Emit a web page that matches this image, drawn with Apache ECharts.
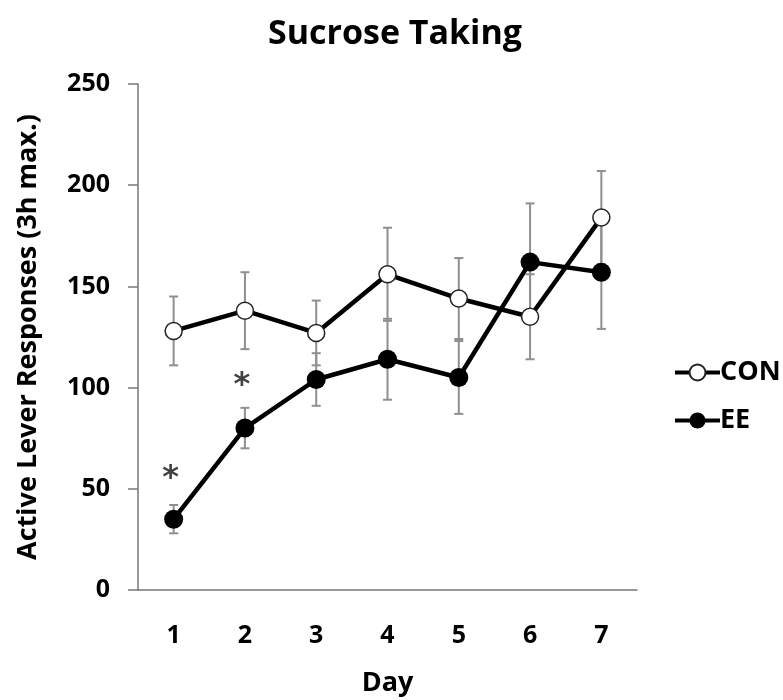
<!DOCTYPE html>
<html>
<head>
<meta charset="utf-8">
<script src="https://cdn.jsdelivr.net/npm/echarts@6/dist/echarts.min.js"></script>
<style>html,body{margin:0;padding:0;background:#fff}#c{width:783px;height:700px}</style>
</head>
<body>
<div id="c"></div>
<script>
var days = ['1','2','3','4','5','6','7'];
var conMean = [128, 138, 127, 156, 144, 135, 184];
var conErr  = [17, 19, 16, 23, 20, 21, 23];
var eeMean  = [35, 80, 104, 114, 105, 162, 157];
var eeErr   = [7, 10, 13, 20, 18, 29, 28];
var starDay = [0, 1];
var starY   = [59, 105];
var yTicks  = [0, 50, 100, 150, 200, 250];

var FONT = 'Open Sans';
function errData(mean, err) {
  return mean.map(function (m, i) { return [i, m - err[i], m + err[i]]; });
}
function errRender(params, api) {
  var x = api.value(0);
  var lo = api.coord([x, api.value(1)]);
  var hi = api.coord([x, api.value(2)]);
  var w = 4.5;
  var st = { stroke: '#8f8f8f', lineWidth: 2 };
  return { type: 'group', children: [
    { type: 'line', shape: { x1: lo[0], y1: lo[1], x2: hi[0], y2: hi[1] }, style: st },
    { type: 'line', shape: { x1: lo[0] - w, y1: lo[1], x2: lo[0] + w, y2: lo[1] }, style: st },
    { type: 'line', shape: { x1: hi[0] - w, y1: hi[1], x2: hi[0] + w, y2: hi[1] }, style: st }
  ]};
}

var chart = echarts.init(document.getElementById('c'), null, { renderer: 'canvas' });
chart.setOption({
  animation: false,
  backgroundColor: '#fff',
  title: {
    text: 'Sucrose Taking', left: 390, top: 12, textAlign: 'center',
    textStyle: { fontFamily: FONT, fontWeight: 'bold', fontSize: 34, color: '#000' }
  },
  legend: {
    orient: 'vertical', left: 668, top: 354, itemGap: 21,
    itemWidth: 45, itemHeight: 20,
    lineStyle: { width: 4 },
    textStyle: { fontFamily: FONT, fontWeight: 'bold', fontSize: 27, color: '#000', padding: [0, 0, 0, -5] },
    data: ['CON', 'EE']
  },
  grid: { left: 138, right: 146, top: 84, bottom: 110, outerBoundsMode: 'none', containLabel: false },
  xAxis: {
    type: 'category', data: days, boundaryGap: true,
    name: 'Day', nameLocation: 'middle', nameGap: 80,
    nameTextStyle: { fontFamily: FONT, fontWeight: 'bold', fontSize: 27, color: '#000' },
    axisLine: { lineStyle: { color: '#777', width: 1.5 } },
    axisTick: { alignWithLabel: true, length: 7, lineStyle: { color: '#777', width: 1.5 } },
    axisLabel: { fontFamily: FONT, fontWeight: 'bold', fontSize: 25, color: '#000', margin: 33 },
    splitLine: { show: false }
  },
  yAxis: {
    type: 'value', min: 0, max: 250, interval: 50,
    name: 'Active Lever Responses (3h max.)', nameLocation: 'middle', nameGap: 96,
    nameTextStyle: { fontFamily: FONT, fontWeight: 'bold', fontSize: 27, color: '#000' },
    axisLine: { show: true, lineStyle: { color: '#777', width: 1.5 } },
    axisTick: { show: true, length: 10, lineStyle: { color: '#777', width: 1.5 } },
    axisLabel: { fontFamily: FONT, fontWeight: 'bold', fontSize: 25, color: '#000', margin: 28,
      formatter: function (v) { return yTicks.indexOf(v) >= 0 ? String(v) : ''; } },
    splitLine: { show: false }
  },
  series: [
    { type: 'custom', name: 'conErr', renderItem: errRender, data: errData(conMean, conErr), z: 1, silent: true },
    { type: 'custom', name: 'eeErr', renderItem: errRender, data: errData(eeMean, eeErr), z: 1, silent: true },
    {
      type: 'line', name: 'CON', data: conMean, z: 3,
      symbol: 'circle', symbolSize: 17, showAllSymbol: true,
      lineStyle: { color: '#000', width: 4.5 },
      itemStyle: { color: '#fff', borderColor: '#222', borderWidth: 1.5 }
    },
    {
      type: 'line', name: 'EE', data: eeMean, z: 4,
      symbol: 'circle', symbolSize: 19, showAllSymbol: true,
      lineStyle: { color: '#000', width: 4.5 },
      itemStyle: { color: '#000', borderColor: '#000', borderWidth: 0 }
    },
    {
      type: 'scatter', name: 'stars', symbolSize: 1, itemStyle: { color: 'rgba(0,0,0,0)' },
      data: starDay.map(function (d, i) { return [d, starY[i]]; }),
      label: { show: true, position: 'inside', formatter: '*', offset: [-3, 8],
        fontFamily: 'DejaVu Sans', fontWeight: 'bold', fontSize: 32, color: '#111' },
      silent: true
    }
  ]
});
</script>
</body>
</html>
